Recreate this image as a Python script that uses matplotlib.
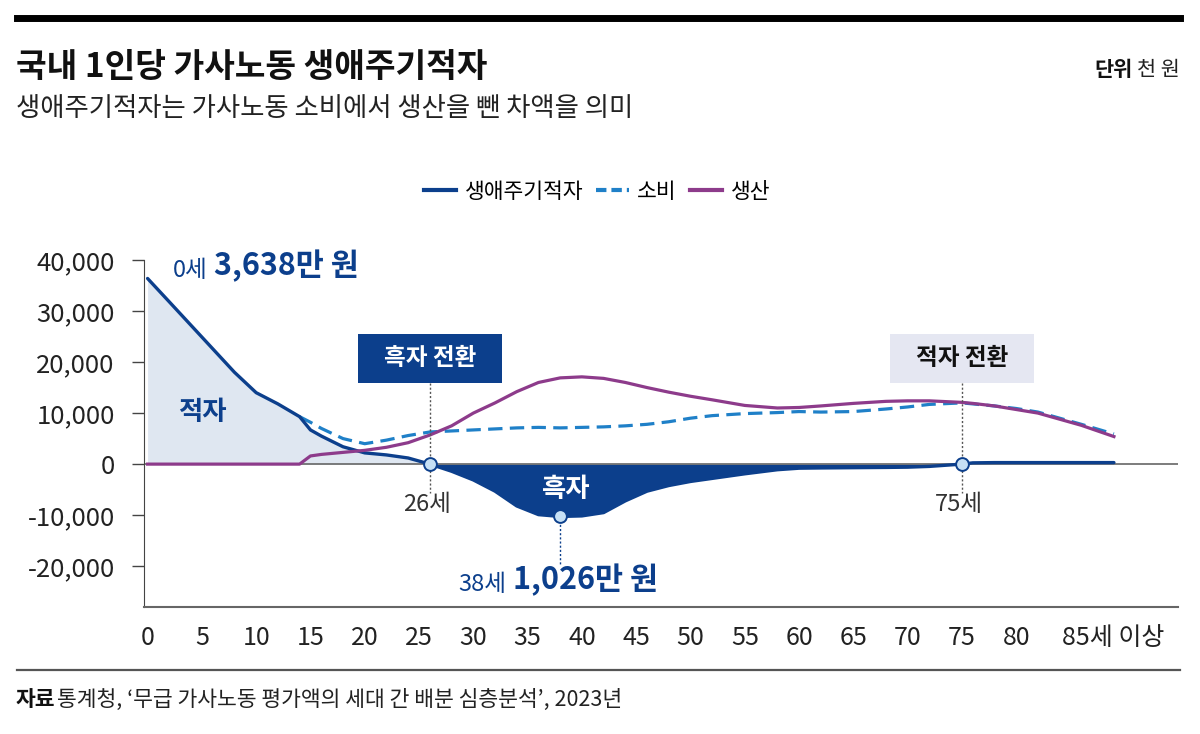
import numpy as np
import matplotlib.pyplot as plt
from matplotlib.lines import Line2D
from matplotlib.patches import Rectangle

plt.rcParams['font.family'] = ['Noto Sans CJK KR', 'DejaVu Sans']

# --- 데이터 (천 원, 그림에서 읽은 값) ---
AGES = [0, 2, 4, 6, 8, 10, 12, 14, 15, 16, 18, 20, 22, 24, 26, 28, 30, 32, 34,
        36, 38, 40, 42, 44, 46, 48, 50, 52, 55, 58, 60, 62, 65, 68, 70, 72, 75,
        76, 78, 80, 82, 84, 86, 89]
DEFICIT = [36380, 31800, 27200, 22600, 18000, 14000, 11800, 9300, 6700, 5500,
           3400, 2200, 1800, 1200, 0, -1400, -3100, -5300, -8200, -9900, -10260,
           -10150, -9500, -7200, -5300, -4200, -3400, -2800, -1900, -1100, -800,
           -750, -700, -650, -600, -450, 0, 250, 300, 300, 300, 300, 300, 300]
CONSUMPTION = [np.nan] * 7 + [9300, 8200, 7000, 5000, 4000, 4700, 5600, 6300,
               6500, 6700, 6900, 7100, 7200, 7100, 7200, 7300, 7500, 7800, 8300,
               9000, 9500, 9900, 10100, 10300, 10200, 10300, 10800, 11200, 11700,
               12000, 11800, 11400, 10900, 10200, 9000, 7800, 5900]
PRODUCTION = [0, 0, 0, 0, 0, 0, 0, 0, 1600, 1900, 2300, 2700, 3300, 4200, 5700,
              7500, 10000, 12000, 14200, 16000, 16900, 17100, 16800, 16000, 15000,
              14100, 13300, 12600, 11500, 11000, 11100, 11400, 11900, 12300, 12400,
              12400, 12100, 11900, 11400, 10700, 10000, 8800, 7600, 5400]

X_TICKS = list(range(0, 85, 5)) + [88.9]
X_LABELS = [str(a) for a in range(0, 85, 5)] + ['85세 이상']
Y_TICKS = [40000, 30000, 20000, 10000, 0, -10000, -20000]

TURN_AGES = [26, 75]          # 흑자 전환, 적자 전환
MIN_AGE = 38                  # 최대 흑자
START_LABEL = '3,638만 원'
MIN_LABEL = '1,026만 원'

NAVY = '#0c3f8c'
LIGHT = '#dfe7f1'
DASH = '#1f80c8'
PURPLE = '#8d3b8b'
DOT = '#c6e0f5'

ages = np.array(AGES, dtype=float)
deficit = np.array(DEFICIT, dtype=float)

fig = plt.figure(figsize=(12, 7.34), dpi=100)
ax = fig.add_axes([144 / 1200, 1 - 607 / 734, 1034 / 1200, 347 / 734])

# 적자/흑자 영역
ax.fill_between(ages, deficit, 0, where=ages <= TURN_AGES[0], color=LIGHT,
                interpolate=True, lw=0, zorder=1)
ax.fill_between(ages, deficit, 0, where=(ages >= TURN_AGES[0]) & (ages <= TURN_AGES[1]),
                color=NAVY, interpolate=True, lw=0, zorder=1)
ax.axhline(0, color='#666666', lw=1.2, zorder=2)

ax.plot(ages, CONSUMPTION, color=DASH, lw=2.3, ls=(0, (4.5, 2.3)), zorder=3)
ax.plot(ages, deficit, color=NAVY, lw=2.4, zorder=4, solid_capstyle='round')
ax.plot(ages, PRODUCTION, color=PURPLE, lw=2.3, zorder=5)

# 전환점 / 최저점
pts_x = TURN_AGES + [MIN_AGE]
pts_y = [deficit[AGES.index(a)] for a in pts_x]
ax.scatter(pts_x, pts_y, s=85, facecolor=DOT, edgecolor=NAVY, lw=1.4, zorder=7)

ax.set_xlim(-0.33, 94.9)
ax.set_ylim(-28000, 40000)
ax.set_yticks(Y_TICKS)
ax.set_yticklabels([f'{v:,}' for v in Y_TICKS])
ax.set_xticks(X_TICKS)
ax.set_xticklabels(X_LABELS)
ax.tick_params(axis='y', length=9, width=1, color='#444444', pad=12,
               labelsize=18.5, labelcolor='#222222')
ax.tick_params(axis='x', length=0, pad=13, labelsize=18, labelcolor='#222222')
for s in ['top', 'right']:
    ax.spines[s].set_visible(False)
ax.spines['left'].set_color('#444444')
ax.spines['bottom'].set_color('#666666')
ax.spines['bottom'].set_linewidth(1.5)

# 전환 박스
box_w, box_h = 13.2, 9600
for a, fc, tc in [(TURN_AGES[0], NAVY, 'white'), (TURN_AGES[1], '#e5e7f2', '#111111')]:
    ax.add_patch(Rectangle((a - 6.6, 15900), box_w, box_h, fc=fc, ec='none', zorder=6))
    ax.text(a, 15900 + box_h / 2, '흑자 전환' if tc == 'white' else '적자 전환',
            ha='center', va='center', color=tc, fontsize=17, weight='bold', zorder=7)
    ax.plot([a, a], [15900, -5600], color='#555555', lw=1, ls=(0, (1.5, 1.5)), zorder=6)
    ax.text(a - 0.3, -7900, f'{a}세', ha='center', va='center', fontsize=17,
            color='#333333', zorder=7)

ax.plot([MIN_AGE, MIN_AGE], [pts_y[2], -20000], color=NAVY, lw=1, ls=(0, (1.5, 1.5)), zorder=6)

ax.text(5.0, 10200, '적자', ha='center', va='center', fontsize=19, weight='bold', color=NAVY)
ax.text(38.6, -4900, '흑자', ha='center', va='center', fontsize=19, weight='bold',
        color='white', zorder=7)

t0 = ax.text(5.5, 35600, '0세', ha='right', va='bottom', fontsize=17, color=NAVY)
ax.annotate(START_LABEL, xy=(1, 0), xycoords=t0, xytext=(5, 0), textcoords='offset points',
            ha='left', va='bottom', fontsize=22, weight='bold', color=NAVY)
t1 = ax.text(33.0, -25900, f'{MIN_AGE}세', ha='right', va='bottom', fontsize=17, color=NAVY)
ax.annotate(MIN_LABEL, xy=(1, 0), xycoords=t1, xytext=(5, 0), textcoords='offset points',
            ha='left', va='bottom', fontsize=22, weight='bold', color=NAVY)

# 범례
handles = [Line2D([], [], color=NAVY, lw=3),
           Line2D([], [], color=DASH, lw=3, ls=(0, (2.5, 1.2))),
           Line2D([], [], color=PURPLE, lw=3)]
fig.legend(handles, ['생애주기적자', '소비', '생산'], loc='center', ncol=3,
           bbox_to_anchor=(597 / 1200, 1 - 192 / 734), frameon=False, fontsize=15.5,
           handlelength=1.5, handletextpad=0.4, columnspacing=0.6)

# 제목 영역
fig.add_artist(Line2D([17 / 1200, 1180 / 1200], [1 - 18 / 734] * 2, color='black', lw=5))
fig.text(16 / 1200, 1 - 67 / 734, '국내 1인당 가사노동 생애주기적자', fontsize=24,
         weight='bold', va='center', ha='left', color='#111111')
fig.text(16 / 1200, 1 - 108 / 734, '생애주기적자는 가사노동 소비에서 생산을 뺀 차액을 의미',
         fontsize=19, va='center', ha='left', color='#222222')
fig.text(1180 / 1200, 1 - 70 / 734, '천 원', fontsize=15, va='center', ha='right', color='#222222')
fig.text(1133 / 1200, 1 - 70 / 734, '단위', fontsize=15, va='center', ha='right',
         weight='bold', color='#111111')

# 출처
fig.add_artist(Line2D([17 / 1200, 1180 / 1200], [1 - 670 / 734] * 2, color='#555555', lw=1.6))
fig.text(16 / 1200, 1 - 700 / 734, '자료', fontsize=15.5, weight='bold', va='center',
         ha='left', color='#111111')
fig.text(57 / 1200, 1 - 700 / 734, '통계청, ‘무급 가사노동 평가액의 세대 간 배분 심층분석’, 2023년',
         fontsize=15.5, va='center', ha='left', color='#222222')

fig.savefig('out.png', dpi=100)
